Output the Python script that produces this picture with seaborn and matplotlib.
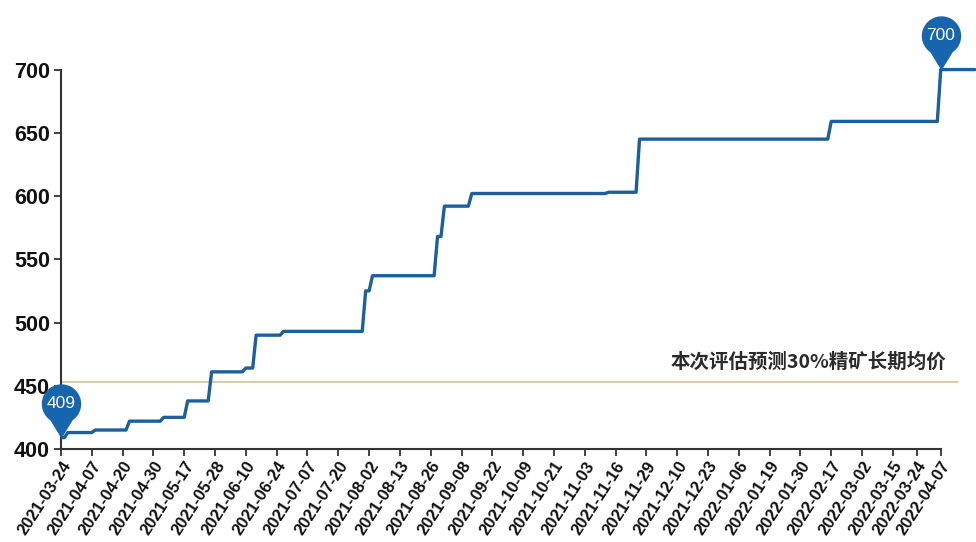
import numpy as np
import pandas as pd
import matplotlib
matplotlib.use('Agg')
import matplotlib.pyplot as plt
from matplotlib.path import Path
import seaborn as sns

# working-day index where the price changes, and the new price
step_day = [0, 2, 10, 20, 30, 37, 44, 54, 57, 65, 89, 91, 110, 112, 120, 160, 169, 225, 257]
step_price = [409, 413, 415, 422, 425, 438, 461, 464, 490, 493, 525, 537, 568, 592, 602, 603, 645, 659, 700]
n_days = 268

tick_labels = ['2021-03-24', '2021-04-07', '2021-04-20', '2021-04-30', '2021-05-17', '2021-05-28',
               '2021-06-10', '2021-06-24', '2021-07-07', '2021-07-20', '2021-08-02', '2021-08-13',
               '2021-08-26', '2021-09-08', '2021-09-22', '2021-10-09', '2021-10-21', '2021-11-03',
               '2021-11-16', '2021-11-29', '2021-12-10', '2021-12-23', '2022-01-06', '2022-01-19',
               '2022-01-30', '2022-02-17', '2022-03-02', '2022-03-15', '2022-03-24', '2022-04-07']
tick_gaps = [9] * 27 + [7, 7]

forecast_price = 453
forecast_label = '本次评估预测30%精矿长期均价'

sns.set_theme(style='white')
plt.rcParams['font.family'] = ['Liberation Sans', 'Noto Sans CJK SC', 'DejaVu Sans']

df = pd.DataFrame({'day': step_day, 'price': step_price}).set_index('day')
df = df.reindex(np.arange(n_days)).ffill().reset_index()

fig = plt.figure(figsize=(9.76, 5.42), dpi=100)
ax = fig.add_axes([0.0625, 0.1716, 0.9375, 0.8284])

line_col = '#1b5f9c'
pin_col = '#1766ad'

ax.axhline(forecast_price, xmin=0, xmax=262 / 267.3, color='#cfc9a0', lw=1.3, zorder=1)
sns.lineplot(data=df, x='day', y='price', ax=ax, color=line_col, lw=2.4, zorder=3)

ax.text(258.5, 469, forecast_label, ha='right', va='center', fontsize=14, fontweight='bold',
        color='#2a2a2a', family=['Noto Sans CJK SC', 'DejaVu Sans'])

# teardrop pins with the tip on the data point
r = 1.0
theta = np.linspace(-np.pi / 2 + 0.6, 3 * np.pi / 2 - 0.6, 60)
cx, cy = 0, 1.75
verts = [(0, 0)] + [(cx + r * np.cos(t), cy + r * np.sin(t)) for t in theta] + [(0, 0)]
pin = Path(verts, [Path.MOVETO] + [Path.LINETO] * (len(verts) - 2) + [Path.CLOSEPOLY])
ms = 78
for i in [0, len(df) - 11]:
    xd, yd = df['day'][i], df['price'][i]
    ax.plot(xd, yd, marker=pin, ms=ms, color=pin_col, mec='none', clip_on=False, zorder=6)
    ax.annotate('%d' % yd, (xd, yd), xytext=(0, 0.5 * ms * cy / 2.75), textcoords='offset points',
                ha='center', va='center', color='white', fontsize=12.5, zorder=7, annotation_clip=False)

ticks = np.concatenate([[0], np.cumsum(tick_gaps)])
ax.set_xticks(ticks)
ax.set_xticklabels(tick_labels, rotation=57, ha='right', rotation_mode='anchor',
                   fontsize=12, fontweight='bold', color='#111111')
ax.set_yticks([400, 450, 500, 550, 600, 650, 700])
ax.set_yticklabels([400, 450, 500, 550, 600, 650, 700], fontsize=15.5, fontweight='bold', color='#111111')
ax.set_xlim(0, 267.3)
ax.set_ylim(400, 755)
ax.set_xlabel('')
ax.set_ylabel('')

for s in ['top', 'right']:
    ax.spines[s].set_visible(False)
ax.spines['left'].set_bounds(400, 700)
ax.spines['bottom'].set_bounds(0, ticks[-1])
for s in ['left', 'bottom']:
    ax.spines[s].set_color('#333333')
    ax.spines[s].set_linewidth(1.5)
ax.tick_params(axis='y', which='major', length=5, width=1.3, color='#333333', left=True, pad=3)
ax.tick_params(axis='x', which='major', length=5, width=1.3, color='#333333', bottom=True, pad=2)

fig.savefig('out.png', dpi=100)
